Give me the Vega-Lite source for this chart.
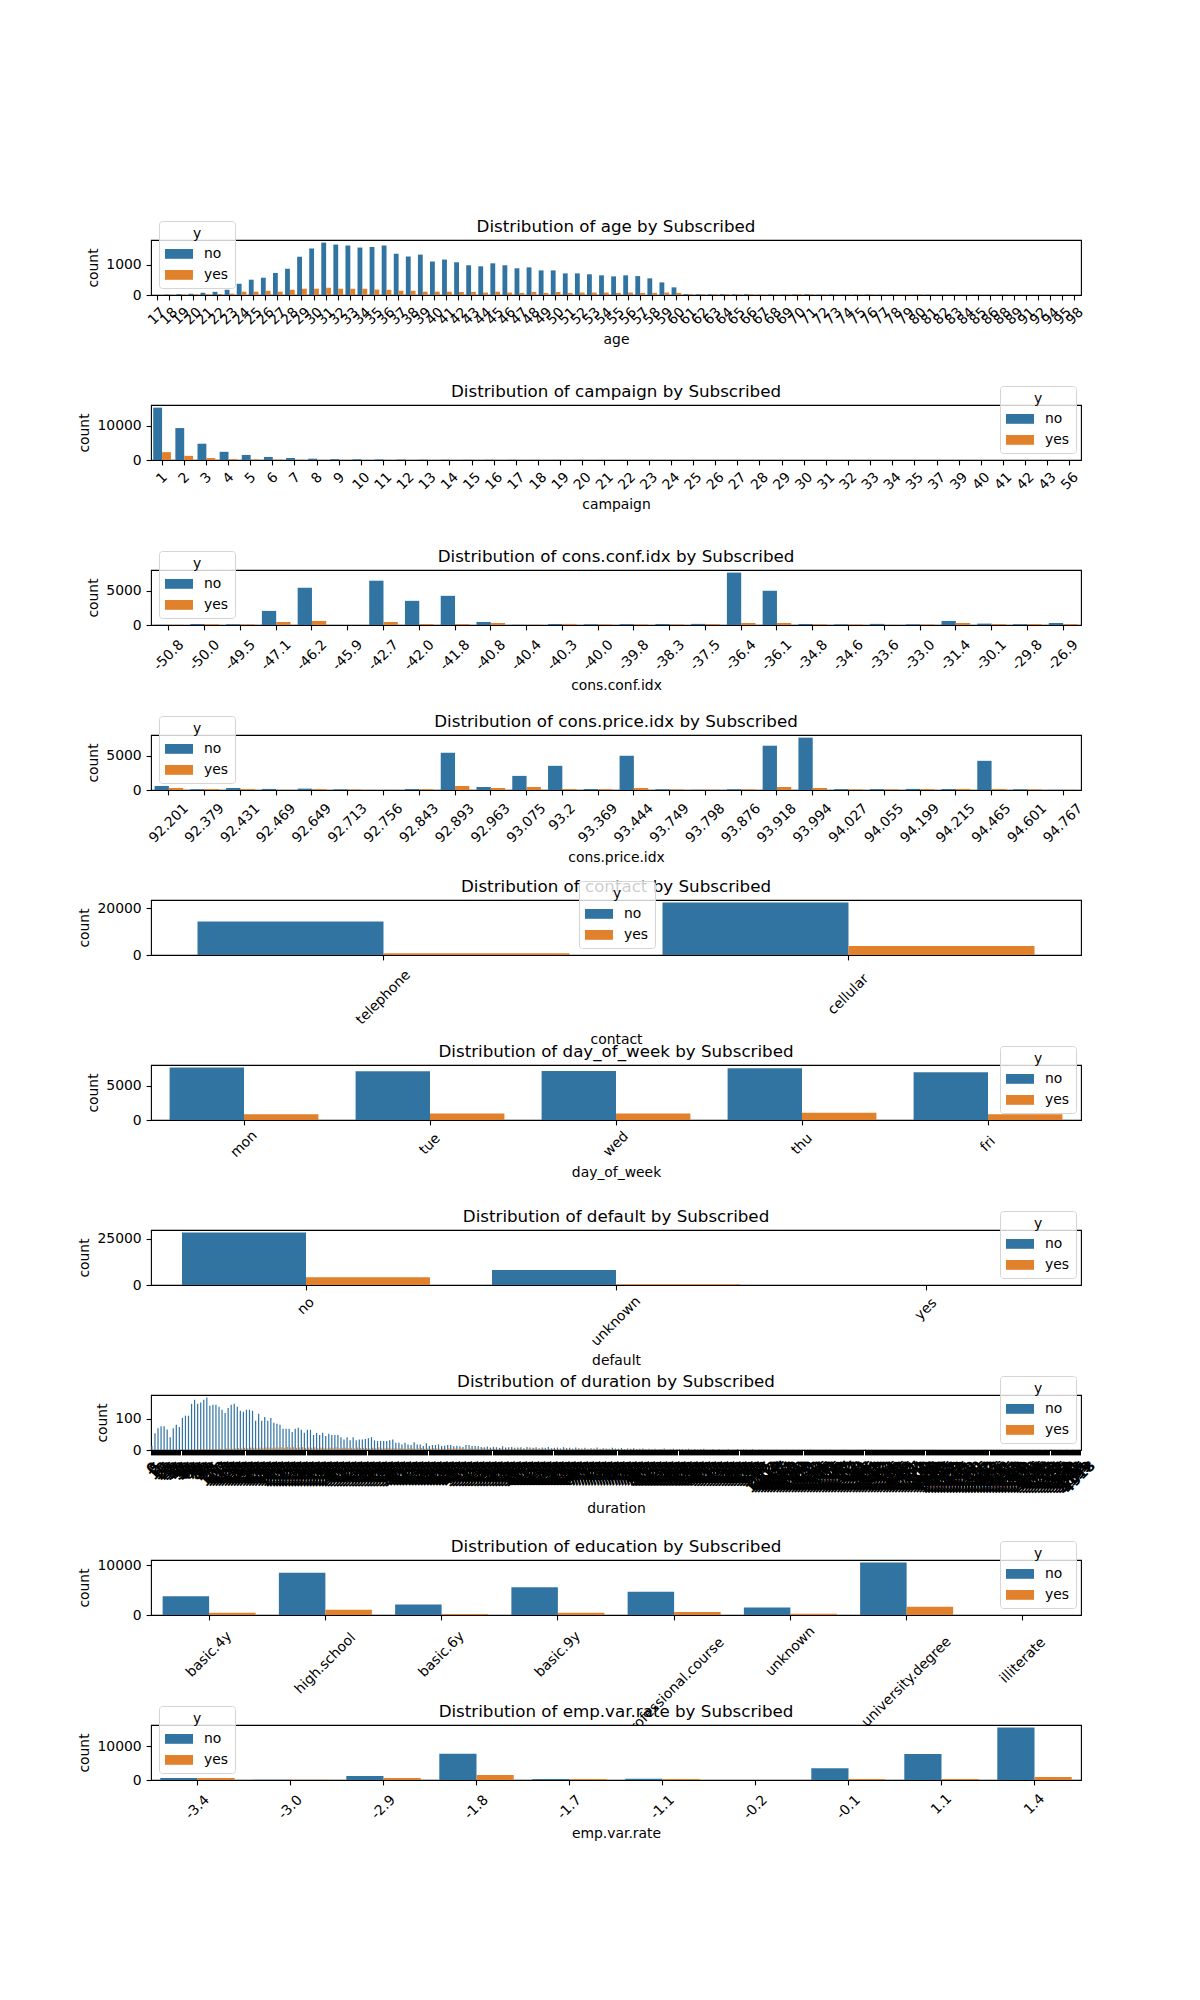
{
"$schema": "https://vega.github.io/schema/vega-lite/v6.json",
"padding": {"left": 76, "top": 217, "right": 5, "bottom": 5},
"background": "white",
"datasets": {
"age": [{"v":17,"no":3,"yes":2},{"v":18,"no":16,"yes":12},{"v":19,"no":30,"yes":20},{"v":20,"no":40,"yes":23},{"v":21,"no":75,"yes":29},{"v":22,"no":105,"yes":36},{"v":23,"no":175,"yes":45},{"v":24,"no":375,"yes":110},{"v":25,"no":510,"yes":110},{"v":26,"no":575,"yes":140},{"v":27,"no":735,"yes":110},{"v":28,"no":875,"yes":175},{"v":29,"no":1275,"yes":210},{"v":30,"no":1545,"yes":210},{"v":31,"no":1745,"yes":240},{"v":32,"no":1680,"yes":210},{"v":33,"no":1645,"yes":210},{"v":34,"no":1580,"yes":210},{"v":35,"no":1600,"yes":180},{"v":36,"no":1645,"yes":175},{"v":37,"no":1375,"yes":145},{"v":38,"no":1280,"yes":140},{"v":39,"no":1345,"yes":110},{"v":40,"no":1115,"yes":110},{"v":41,"no":1180,"yes":110},{"v":42,"no":1090,"yes":100},{"v":43,"no":990,"yes":100},{"v":44,"no":955,"yes":80},{"v":45,"no":1055,"yes":110},{"v":46,"no":990,"yes":80},{"v":47,"no":890,"yes":70},{"v":48,"no":920,"yes":100},{"v":49,"no":820,"yes":70},{"v":50,"no":820,"yes":100},{"v":51,"no":720,"yes":70},{"v":52,"no":720,"yes":80},{"v":53,"no":690,"yes":80},{"v":54,"no":655,"yes":80},{"v":55,"no":620,"yes":70},{"v":56,"no":655,"yes":80},{"v":57,"no":630,"yes":70},{"v":58,"no":555,"yes":70},{"v":59,"no":420,"yes":80},{"v":60,"no":255,"yes":70},{"v":61,"no":30,"yes":35},{"v":62,"no":25,"yes":30},{"v":63,"no":25,"yes":30},{"v":64,"no":28,"yes":29},{"v":65,"no":23,"yes":21},{"v":66,"no":30,"yes":27},{"v":67,"no":11,"yes":15},{"v":68,"no":19,"yes":14},{"v":69,"no":14,"yes":20},{"v":70,"no":20,"yes":27},{"v":71,"no":28,"yes":25},{"v":72,"no":13,"yes":21},{"v":73,"no":20,"yes":14},{"v":74,"no":14,"yes":18},{"v":75,"no":12,"yes":12},{"v":76,"no":18,"yes":16},{"v":77,"no":9,"yes":11},{"v":78,"no":13,"yes":14},{"v":79,"no":3,"yes":11},{"v":80,"no":10,"yes":21},{"v":81,"no":10,"yes":10},{"v":82,"no":6,"yes":11},{"v":83,"no":9,"yes":8},{"v":84,"no":5,"yes":2},{"v":85,"no":8,"yes":7},{"v":86,"no":4,"yes":4},{"v":88,"no":9,"yes":13},{"v":89,"no":2,"yes":0},{"v":91,"no":2,"yes":0},{"v":92,"no":1,"yes":3},{"v":94,"no":1,"yes":0},{"v":95,"no":1,"yes":0},{"v":98,"no":0,"yes":2}],
"campaign": [{"v":1,"no":15342,"yes":2300},{"v":2,"no":9359,"yes":1211},{"v":3,"no":4767,"yes":574},{"v":4,"no":2402,"yes":249},{"v":5,"no":1479,"yes":120},{"v":6,"no":904,"yes":75},{"v":7,"no":591,"yes":38},{"v":8,"no":383,"yes":17},{"v":9,"no":266,"yes":17},{"v":10,"no":213,"yes":12},{"v":11,"no":165,"yes":12},{"v":12,"no":122,"yes":3},{"v":13,"no":88,"yes":4},{"v":14,"no":68,"yes":1},{"v":15,"no":49,"yes":2},{"v":16,"no":51,"yes":0},{"v":17,"no":54,"yes":4},{"v":18,"no":33,"yes":0},{"v":19,"no":26,"yes":0},{"v":20,"no":30,"yes":0},{"v":21,"no":24,"yes":0},{"v":22,"no":17,"yes":0},{"v":23,"no":15,"yes":1},{"v":24,"no":15,"yes":0},{"v":25,"no":8,"yes":0},{"v":26,"no":8,"yes":0},{"v":27,"no":11,"yes":0},{"v":28,"no":8,"yes":0},{"v":29,"no":10,"yes":0},{"v":30,"no":7,"yes":0},{"v":31,"no":7,"yes":0},{"v":32,"no":4,"yes":0},{"v":33,"no":4,"yes":0},{"v":34,"no":3,"yes":0},{"v":35,"no":5,"yes":0},{"v":37,"no":1,"yes":0},{"v":39,"no":1,"yes":0},{"v":40,"no":2,"yes":0},{"v":41,"no":1,"yes":0},{"v":42,"no":2,"yes":0},{"v":43,"no":2,"yes":0},{"v":56,"no":1,"yes":0}],
"conf": [{"v":"-50.8","no":25,"yes":30},{"v":"-50.0","no":150,"yes":130},{"v":"-49.5","no":110,"yes":100},{"v":"-47.1","no":2060,"yes":440},{"v":"-46.2","no":5440,"yes":590},{"v":"-45.9","no":0,"yes":10},{"v":"-42.7","no":6470,"yes":440},{"v":"-42.0","no":3530,"yes":150},{"v":"-41.8","no":4260,"yes":150},{"v":"-40.8","no":440,"yes":290},{"v":"-40.4","no":30,"yes":35},{"v":"-40.3","no":150,"yes":160},{"v":"-40.0","no":110,"yes":100},{"v":"-39.8","no":130,"yes":100},{"v":"-38.3","no":130,"yes":100},{"v":"-37.5","no":160,"yes":140},{"v":"-36.4","no":7650,"yes":290},{"v":"-36.1","no":5000,"yes":290},{"v":"-34.8","no":150,"yes":120},{"v":"-34.6","no":100,"yes":80},{"v":"-33.6","no":160,"yes":10},{"v":"-33.0","no":100,"yes":80},{"v":"-31.4","no":590,"yes":290},{"v":"-30.1","no":200,"yes":150},{"v":"-29.8","no":120,"yes":150},{"v":"-26.9","no":290,"yes":150}],
"price": [{"v":"92.201","no":590,"yes":290},{"v":"92.379","no":120,"yes":150},{"v":"92.431","no":290,"yes":150},{"v":"92.469","no":160,"yes":10},{"v":"92.649","no":200,"yes":150},{"v":"92.713","no":100,"yes":80},{"v":"92.756","no":0,"yes":10},{"v":"92.843","no":150,"yes":130},{"v":"92.893","no":5440,"yes":590},{"v":"92.963","no":440,"yes":290},{"v":"93.075","no":2060,"yes":440},{"v":"93.2","no":3530,"yes":150},{"v":"93.369","no":150,"yes":120},{"v":"93.444","no":5000,"yes":290},{"v":"93.749","no":100,"yes":80},{"v":"93.798","no":30,"yes":35},{"v":"93.876","no":110,"yes":100},{"v":"93.918","no":6470,"yes":440},{"v":"93.994","no":7650,"yes":290},{"v":"94.027","no":130,"yes":100},{"v":"94.055","no":130,"yes":100},{"v":"94.199","no":160,"yes":140},{"v":"94.215","no":150,"yes":160},{"v":"94.465","no":4260,"yes":150},{"v":"94.601","no":110,"yes":100},{"v":"94.767","no":25,"yes":30}],
"contact": [{"v":"telephone","no":14257,"yes":787},{"v":"cellular","no":22291,"yes":3853}],
"dow": [{"v":"mon","no":7667,"yes":847},{"v":"tue","no":7137,"yes":953},{"v":"wed","no":7185,"yes":949},{"v":"thu","no":7578,"yes":1045},{"v":"fri","no":6981,"yes":846}],
"default": [{"v":"no","no":28391,"yes":4197},{"v":"unknown","no":8154,"yes":443},{"v":"yes","no":3,"yes":0}],
"education": [{"v":"basic.4y","no":3748,"yes":428},{"v":"high.school","no":8484,"yes":1031},{"v":"basic.6y","no":2104,"yes":188},{"v":"basic.9y","no":5572,"yes":473},{"v":"professional.course","no":4648,"yes":595},{"v":"unknown","no":1480,"yes":251},{"v":"university.degree","no":10498,"yes":1670},{"v":"illiterate","no":14,"yes":4}],
"emp": [{"v":"-3.4","no":610,"yes":580},{"v":"-3.0","no":84,"yes":88},{"v":"-2.9","no":1150,"yes":600},{"v":"-1.8","no":7723,"yes":1480},{"v":"-1.7","no":330,"yes":330},{"v":"-1.1","no":334,"yes":301},{"v":"-0.2","no":9,"yes":1},{"v":"-0.1","no":3500,"yes":300},{"v":"1.1","no":7650,"yes":290},{"v":"1.4","no":15446,"yes":890}],
"duration": [{"v":0,"no":13,"yes":0},{"v":5,"no":54,"yes":0},{"v":10,"no":70,"yes":0},{"v":15,"no":76,"yes":0},{"v":20,"no":76,"yes":0},{"v":25,"no":66,"yes":0},{"v":30,"no":41,"yes":0},{"v":35,"no":70,"yes":0},{"v":40,"no":81,"yes":0},{"v":45,"no":74,"yes":0},{"v":50,"no":103,"yes":1},{"v":55,"no":110,"yes":1},{"v":60,"no":110,"yes":1},{"v":65,"no":148,"yes":2},{"v":70,"no":161,"yes":1},{"v":75,"no":148,"yes":2},{"v":80,"no":152,"yes":3},{"v":85,"no":161,"yes":2},{"v":90,"no":168,"yes":3},{"v":95,"no":142,"yes":2},{"v":100,"no":145,"yes":3},{"v":105,"no":145,"yes":3},{"v":110,"no":139,"yes":4},{"v":115,"no":129,"yes":3},{"v":120,"no":119,"yes":5},{"v":125,"no":135,"yes":4},{"v":130,"no":145,"yes":4},{"v":135,"no":148,"yes":5},{"v":140,"no":139,"yes":6},{"v":145,"no":126,"yes":5},{"v":150,"no":123,"yes":7},{"v":155,"no":129,"yes":6},{"v":160,"no":129,"yes":8},{"v":165,"no":126,"yes":7},{"v":170,"no":94,"yes":6},{"v":175,"no":116,"yes":8},{"v":180,"no":94,"yes":7},{"v":185,"no":106,"yes":9},{"v":190,"no":94,"yes":8},{"v":195,"no":103,"yes":7},{"v":200,"no":87,"yes":8},{"v":205,"no":84,"yes":8},{"v":210,"no":81,"yes":9},{"v":215,"no":68,"yes":7},{"v":220,"no":68,"yes":10},{"v":225,"no":68,"yes":8},{"v":230,"no":58,"yes":9},{"v":235,"no":68,"yes":7},{"v":240,"no":71,"yes":8},{"v":245,"no":65,"yes":9},{"v":250,"no":55,"yes":6},{"v":255,"no":65,"yes":8},{"v":260,"no":65,"yes":7},{"v":265,"no":48,"yes":9},{"v":270,"no":55,"yes":6},{"v":275,"no":48,"yes":8},{"v":280,"no":55,"yes":7},{"v":285,"no":45,"yes":6},{"v":290,"no":52,"yes":8},{"v":295,"no":48,"yes":7},{"v":300,"no":48,"yes":9},{"v":305,"no":48,"yes":6},{"v":310,"no":41,"yes":7},{"v":315,"no":34,"yes":8},{"v":320,"no":41,"yes":6},{"v":325,"no":31,"yes":7},{"v":330,"no":41,"yes":5},{"v":335,"no":31,"yes":8},{"v":340,"no":34,"yes":6},{"v":345,"no":34,"yes":7},{"v":350,"no":35,"yes":6},{"v":355,"no":38,"yes":5},{"v":360,"no":41,"yes":7},{"v":365,"no":31,"yes":6},{"v":370,"no":29,"yes":8},{"v":375,"no":29,"yes":5},{"v":380,"no":29,"yes":6},{"v":385,"no":29,"yes":7},{"v":390,"no":31,"yes":5},{"v":395,"no":34,"yes":6},{"v":400,"no":23,"yes":5},{"v":405,"no":23,"yes":6},{"v":410,"no":18,"yes":5},{"v":415,"no":23,"yes":4},{"v":420,"no":18,"yes":6},{"v":425,"no":16,"yes":5},{"v":430,"no":25,"yes":4},{"v":435,"no":18,"yes":5},{"v":440,"no":18,"yes":6},{"v":445,"no":13,"yes":4},{"v":450,"no":22,"yes":5},{"v":455,"no":13,"yes":4},{"v":460,"no":16,"yes":6},{"v":465,"no":16,"yes":5},{"v":470,"no":18,"yes":4},{"v":475,"no":13,"yes":5},{"v":480,"no":14,"yes":4},{"v":485,"no":16,"yes":6},{"v":490,"no":16,"yes":4},{"v":495,"no":12,"yes":5},{"v":500,"no":14,"yes":4},{"v":505,"no":12,"yes":5},{"v":510,"no":10,"yes":4},{"v":515,"no":16,"yes":3},{"v":520,"no":16,"yes":5},{"v":525,"no":13,"yes":4},{"v":530,"no":13,"yes":4},{"v":535,"no":12,"yes":3},{"v":540,"no":10,"yes":5},{"v":545,"no":9,"yes":4},{"v":550,"no":11,"yes":3},{"v":555,"no":8,"yes":4},{"v":560,"no":10,"yes":4},{"v":565,"no":9,"yes":3},{"v":570,"no":7,"yes":5},{"v":575,"no":12,"yes":3},{"v":580,"no":8,"yes":4},{"v":585,"no":9,"yes":3},{"v":590,"no":10,"yes":4},{"v":595,"no":7,"yes":3},{"v":600,"no":8,"yes":4},{"v":605,"no":9,"yes":3},{"v":610,"no":6,"yes":3},{"v":615,"no":10,"yes":4},{"v":620,"no":8,"yes":3},{"v":625,"no":7,"yes":5},{"v":630,"no":9,"yes":3},{"v":635,"no":6,"yes":3},{"v":640,"no":8,"yes":4},{"v":645,"no":7,"yes":3},{"v":650,"no":10,"yes":3},{"v":655,"no":6,"yes":4},{"v":660,"no":7,"yes":3},{"v":665,"no":8,"yes":3},{"v":670,"no":5,"yes":2},{"v":675,"no":9,"yes":4},{"v":680,"no":6,"yes":3},{"v":685,"no":7,"yes":3},{"v":690,"no":5,"yes":2},{"v":695,"no":8,"yes":3},{"v":700,"no":6,"yes":3},{"v":705,"no":5,"yes":2},{"v":710,"no":7,"yes":3},{"v":715,"no":4,"yes":3},{"v":720,"no":6,"yes":2},{"v":725,"no":5,"yes":3},{"v":730,"no":8,"yes":2},{"v":735,"no":4,"yes":3},{"v":740,"no":6,"yes":2},{"v":745,"no":5,"yes":3},{"v":750,"no":4,"yes":2},{"v":755,"no":7,"yes":3},{"v":760,"no":5,"yes":2},{"v":765,"no":4,"yes":2},{"v":770,"no":6,"yes":3},{"v":775,"no":3,"yes":2},{"v":780,"no":5,"yes":2},{"v":785,"no":4,"yes":3},{"v":790,"no":6,"yes":2},{"v":795,"no":3,"yes":2},{"v":800,"no":4,"yes":2},{"v":805,"no":5,"yes":3},{"v":810,"no":3,"yes":2},{"v":815,"no":4,"yes":2},{"v":820,"no":3,"yes":2},{"v":825,"no":4,"yes":2},{"v":830,"no":2,"yes":3},{"v":835,"no":3,"yes":2},{"v":840,"no":5,"yes":2},{"v":845,"no":2,"yes":2},{"v":850,"no":3,"yes":2},{"v":855,"no":4,"yes":2},{"v":860,"no":2,"yes":3},{"v":865,"no":3,"yes":2},{"v":870,"no":3,"yes":2},{"v":875,"no":2,"yes":2},{"v":880,"no":4,"yes":2},{"v":885,"no":2,"yes":2},{"v":890,"no":3,"yes":2},{"v":895,"no":2,"yes":2},{"v":900,"no":3,"yes":2},{"v":905,"no":4,"yes":2},{"v":910,"no":2,"yes":2},{"v":915,"no":2,"yes":2},{"v":920,"no":3,"yes":2},{"v":925,"no":1,"yes":2},{"v":930,"no":3,"yes":1},{"v":935,"no":2,"yes":2},{"v":940,"no":2,"yes":2},{"v":945,"no":3,"yes":2},{"v":950,"no":1,"yes":2},{"v":955,"no":2,"yes":1},{"v":960,"no":3,"yes":2},{"v":965,"no":1,"yes":2},{"v":970,"no":2,"yes":2},{"v":975,"no":2,"yes":1},{"v":980,"no":1,"yes":2},{"v":985,"no":3,"yes":2},{"v":990,"no":1,"yes":1},{"v":995,"no":2,"yes":2},{"v":1002,"no":2,"yes":2},{"v":1010,"no":1,"yes":2},{"v":1018,"no":2,"yes":1},{"v":1027,"no":1,"yes":2},{"v":1035,"no":1,"yes":2},{"v":1044,"no":2,"yes":1},{"v":1053,"no":1,"yes":2},{"v":1062,"no":1,"yes":1},{"v":1071,"no":2,"yes":2},{"v":1080,"no":1,"yes":1},{"v":1090,"no":1,"yes":2},{"v":1100,"no":1,"yes":1},{"v":1110,"no":2,"yes":1},{"v":1121,"no":1,"yes":2},{"v":1132,"no":1,"yes":1},{"v":1143,"no":1,"yes":1},{"v":1154,"no":2,"yes":2},{"v":1166,"no":1,"yes":1},{"v":1178,"no":1,"yes":1},{"v":1190,"no":1,"yes":1},{"v":1203,"no":1,"yes":1},{"v":1216,"no":2,"yes":1},{"v":1229,"no":1,"yes":2},{"v":1243,"no":1,"yes":1},{"v":1257,"no":1,"yes":1},{"v":1272,"no":1,"yes":1},{"v":1287,"no":1,"yes":1},{"v":1302,"no":2,"yes":2},{"v":1318,"no":1,"yes":1},{"v":1334,"no":1,"yes":1},{"v":1351,"no":1,"yes":1},{"v":1368,"no":1,"yes":1},{"v":1386,"no":1,"yes":1},{"v":1404,"no":1,"yes":1},{"v":1423,"no":2,"yes":1},{"v":1442,"no":1,"yes":1},{"v":1462,"no":1,"yes":1},{"v":1482,"no":1,"yes":1},{"v":1503,"no":1,"yes":1},{"v":1524,"no":1,"yes":1},{"v":1546,"no":1,"yes":1},{"v":1569,"no":1,"yes":1},{"v":1592,"no":1,"yes":1},{"v":1616,"no":1,"yes":1},{"v":1640,"no":1,"yes":1},{"v":1665,"no":1,"yes":1},{"v":1691,"no":1,"yes":1},{"v":1717,"no":1,"yes":1},{"v":1744,"no":1,"yes":1},{"v":1772,"no":1,"yes":1},{"v":1800,"no":1,"yes":1},{"v":1829,"no":1,"yes":1},{"v":1858,"no":1,"yes":1},{"v":1888,"no":1,"yes":1},{"v":1919,"no":1,"yes":1},{"v":1950,"no":1,"yes":1},{"v":1980,"no":1,"yes":1},{"v":2015,"no":1,"yes":1},{"v":2035,"no":1,"yes":1},{"v":2062,"no":1,"yes":1},{"v":2089,"no":1,"yes":1},{"v":2122,"no":1,"yes":1},{"v":2139,"no":1,"yes":0},{"v":2165,"no":1,"yes":1},{"v":2191,"no":1,"yes":1},{"v":2219,"no":1,"yes":0},{"v":2231,"no":1,"yes":1},{"v":2260,"no":1,"yes":1},{"v":2301,"no":1,"yes":1},{"v":2316,"no":1,"yes":0},{"v":2372,"no":1,"yes":1},{"v":2420,"no":1,"yes":0},{"v":2453,"no":1,"yes":1},{"v":2462,"no":1,"yes":1},{"v":2486,"no":1,"yes":0},{"v":2516,"no":1,"yes":1},{"v":2580,"no":1,"yes":0},{"v":2621,"no":1,"yes":1},{"v":2635,"no":1,"yes":1},{"v":2653,"no":1,"yes":0},{"v":2680,"no":1,"yes":1},{"v":2692,"no":1,"yes":0},{"v":2719,"no":1,"yes":1},{"v":2769,"no":1,"yes":0},{"v":2801,"no":1,"yes":1},{"v":2870,"no":1,"yes":1},{"v":2926,"no":1,"yes":0},{"v":2980,"no":1,"yes":1},{"v":3076,"no":1,"yes":0},{"v":3078,"no":1,"yes":1},{"v":3094,"no":0,"yes":1},{"v":3183,"no":1,"yes":1},{"v":3253,"no":0,"yes":0},{"v":3284,"no":1,"yes":1},{"v":3322,"no":0,"yes":1},{"v":3366,"no":1,"yes":0},{"v":3422,"no":1,"yes":1},{"v":3509,"no":0,"yes":1},{"v":3580,"no":1,"yes":0},{"v":3631,"no":0,"yes":1},{"v":3643,"no":1,"yes":1},{"v":3785,"no":0,"yes":0},{"v":3881,"no":1,"yes":1},{"v":4199,"no":0,"yes":1},{"v":4918,"no":1,"yes":1}]
},
"spacing": 110,
"bounds": "flush",
"resolve": {"scale": {"color": "independent", "x": "independent", "y": "independent", "xOffset": "independent"}, "legend": {"color": "independent"}},
"vconcat": [
{"title": "Distribution of age by Subscribed", "width": 930, "height": 55, "data": {"name": "age"},
 "transform": [{"fold": ["no", "yes"], "as": ["y", "count"]}], "mark": {"type": "bar"},
 "encoding": {
  "x": {"field": "v", "type": "nominal", "sort": null, "title": "age", "scale": {"paddingInner": 0.2, "paddingOuter": 0.1}, "axis": {"labelOverlap": false, "encoding": {"labels": {"dx": {"value": {"expr": "-0.25*(8.6*length(datum.label)+14)"}}, "dy": {"value": {"expr": "0.25*(8.6*length(datum.label)+14)"}}}}}},
  "xOffset": {"field": "y", "type": "nominal", "sort": ["no", "yes"], "scale": {"paddingInner": 0, "paddingOuter": 0}},
  "y": {"field": "count", "type": "quantitative", "title": "count", "scale": {"domain": [0, 1832], "nice": false}, "axis": {"values": [0, 1000], "format": "d"}},
  "color": {"field": "y", "type": "nominal", "sort": ["no", "yes"], "scale": {"domain": ["no", "yes"], "range": ["#3274a1", "#e1812c"]}, "legend": {"orient": "none", "legendX": 8, "legendY": -19}}
 }},
{"title": "Distribution of campaign by Subscribed", "width": 930, "height": 55, "data": {"name": "campaign"},
 "transform": [{"fold": ["no", "yes"], "as": ["y", "count"]}], "mark": {"type": "bar"},
 "encoding": {
  "x": {"field": "v", "type": "nominal", "sort": null, "title": "campaign", "scale": {"paddingInner": 0.2, "paddingOuter": 0.1}, "axis": {"labelOverlap": false, "encoding": {"labels": {"dx": {"value": {"expr": "-0.25*(8.6*length(datum.label)+14)"}}, "dy": {"value": {"expr": "0.25*(8.6*length(datum.label)+14)"}}}}}},
  "xOffset": {"field": "y", "type": "nominal", "sort": ["no", "yes"], "scale": {"paddingInner": 0, "paddingOuter": 0}},
  "y": {"field": "count", "type": "quantitative", "title": "count", "scale": {"domain": [0, 16109], "nice": false}, "axis": {"values": [0, 10000], "format": "d"}},
  "color": {"field": "y", "type": "nominal", "sort": ["no", "yes"], "scale": {"domain": ["no", "yes"], "range": ["#3274a1", "#e1812c"]}, "legend": {"orient": "none", "legendX": 849, "legendY": -19}}
 }},
{"title": "Distribution of cons.conf.idx by Subscribed", "width": 930, "height": 55, "data": {"name": "conf"},
 "transform": [{"fold": ["no", "yes"], "as": ["y", "count"]}], "mark": {"type": "bar"},
 "encoding": {
  "x": {"field": "v", "type": "nominal", "sort": null, "title": "cons.conf.idx", "scale": {"paddingInner": 0.2, "paddingOuter": 0.1}, "axis": {"labelOverlap": false, "encoding": {"labels": {"dx": {"value": {"expr": "-0.25*(8.6*length(datum.label)+14)"}}, "dy": {"value": {"expr": "0.25*(8.6*length(datum.label)+14)"}}}}}},
  "xOffset": {"field": "y", "type": "nominal", "sort": ["no", "yes"], "scale": {"paddingInner": 0, "paddingOuter": 0}},
  "y": {"field": "count", "type": "quantitative", "title": "count", "scale": {"domain": [0, 8032], "nice": false}, "axis": {"values": [0, 5000], "format": "d"}},
  "color": {"field": "y", "type": "nominal", "sort": ["no", "yes"], "scale": {"domain": ["no", "yes"], "range": ["#3274a1", "#e1812c"]}, "legend": {"orient": "none", "legendX": 8, "legendY": -19}}
 }},
{"title": "Distribution of cons.price.idx by Subscribed", "width": 930, "height": 55, "data": {"name": "price"},
 "transform": [{"fold": ["no", "yes"], "as": ["y", "count"]}], "mark": {"type": "bar"},
 "encoding": {
  "x": {"field": "v", "type": "nominal", "sort": null, "title": "cons.price.idx", "scale": {"paddingInner": 0.2, "paddingOuter": 0.1}, "axis": {"labelOverlap": false, "encoding": {"labels": {"dx": {"value": {"expr": "-0.25*(8.6*length(datum.label)+14)"}}, "dy": {"value": {"expr": "0.25*(8.6*length(datum.label)+14)"}}}}}},
  "xOffset": {"field": "y", "type": "nominal", "sort": ["no", "yes"], "scale": {"paddingInner": 0, "paddingOuter": 0}},
  "y": {"field": "count", "type": "quantitative", "title": "count", "scale": {"domain": [0, 8032], "nice": false}, "axis": {"values": [0, 5000], "format": "d"}},
  "color": {"field": "y", "type": "nominal", "sort": ["no", "yes"], "scale": {"domain": ["no", "yes"], "range": ["#3274a1", "#e1812c"]}, "legend": {"orient": "none", "legendX": 8, "legendY": -19}}
 }},
{"title": "Distribution of contact by Subscribed", "width": 930, "height": 55, "data": {"name": "contact"},
 "transform": [{"fold": ["no", "yes"], "as": ["y", "count"]}], "mark": {"type": "bar"},
 "encoding": {
  "x": {"field": "v", "type": "nominal", "sort": null, "title": "contact", "scale": {"paddingInner": 0.2, "paddingOuter": 0.1}, "axis": {"labelOverlap": false, "encoding": {"labels": {"dx": {"value": {"expr": "-0.25*(8.6*length(datum.label)+14)"}}, "dy": {"value": {"expr": "0.25*(8.6*length(datum.label)+14)"}}}}}},
  "xOffset": {"field": "y", "type": "nominal", "sort": ["no", "yes"], "scale": {"paddingInner": 0, "paddingOuter": 0}},
  "y": {"field": "count", "type": "quantitative", "title": "count", "scale": {"domain": [0, 23406], "nice": false}, "axis": {"values": [0, 20000], "format": "d"}},
  "color": {"field": "y", "type": "nominal", "sort": ["no", "yes"], "scale": {"domain": ["no", "yes"], "range": ["#3274a1", "#e1812c"]}, "legend": {"orient": "none", "legendX": 428, "legendY": -19}}
 }},
{"title": "Distribution of day_of_week by Subscribed", "width": 930, "height": 55, "data": {"name": "dow"},
 "transform": [{"fold": ["no", "yes"], "as": ["y", "count"]}], "mark": {"type": "bar"},
 "encoding": {
  "x": {"field": "v", "type": "nominal", "sort": null, "title": "day_of_week", "scale": {"paddingInner": 0.2, "paddingOuter": 0.1}, "axis": {"labelOverlap": false, "encoding": {"labels": {"dx": {"value": {"expr": "-0.25*(8.6*length(datum.label)+14)"}}, "dy": {"value": {"expr": "0.25*(8.6*length(datum.label)+14)"}}}}}},
  "xOffset": {"field": "y", "type": "nominal", "sort": ["no", "yes"], "scale": {"paddingInner": 0, "paddingOuter": 0}},
  "y": {"field": "count", "type": "quantitative", "title": "count", "scale": {"domain": [0, 8050], "nice": false}, "axis": {"values": [0, 5000], "format": "d"}},
  "color": {"field": "y", "type": "nominal", "sort": ["no", "yes"], "scale": {"domain": ["no", "yes"], "range": ["#3274a1", "#e1812c"]}, "legend": {"orient": "none", "legendX": 849, "legendY": -19}}
 }},
{"title": "Distribution of default by Subscribed", "width": 930, "height": 55, "data": {"name": "default"},
 "transform": [{"fold": ["no", "yes"], "as": ["y", "count"]}], "mark": {"type": "bar"},
 "encoding": {
  "x": {"field": "v", "type": "nominal", "sort": null, "title": "default", "scale": {"paddingInner": 0.2, "paddingOuter": 0.1}, "axis": {"labelOverlap": false, "encoding": {"labels": {"dx": {"value": {"expr": "-0.25*(8.6*length(datum.label)+14)"}}, "dy": {"value": {"expr": "0.25*(8.6*length(datum.label)+14)"}}}}}},
  "xOffset": {"field": "y", "type": "nominal", "sort": ["no", "yes"], "scale": {"paddingInner": 0, "paddingOuter": 0}},
  "y": {"field": "count", "type": "quantitative", "title": "count", "scale": {"domain": [0, 29811], "nice": false}, "axis": {"values": [0, 25000], "format": "d"}},
  "color": {"field": "y", "type": "nominal", "sort": ["no", "yes"], "scale": {"domain": ["no", "yes"], "range": ["#3274a1", "#e1812c"]}, "legend": {"orient": "none", "legendX": 849, "legendY": -19}}
 }},
{"title": "Distribution of duration by Subscribed", "width": 930, "height": 55, "data": {"name": "duration"},
 "transform": [{"fold": ["no", "yes"], "as": ["y", "count"]}], "mark": {"type": "bar"},
 "encoding": {
  "x": {"field": "v", "type": "nominal", "sort": null, "title": "duration", "scale": {"paddingInner": 0.2, "paddingOuter": 0.1}, "axis": {"labelOverlap": false, "tickWidth": 3, "labelFontWeight": "bold", "encoding": {"labels": {"dx": {"value": {"expr": "-0.25*(8.6*length(datum.label)+14)"}}, "dy": {"value": {"expr": "0.25*(8.6*length(datum.label)+14)"}}}}}},
  "xOffset": {"field": "y", "type": "nominal", "sort": ["no", "yes"], "scale": {"paddingInner": 0, "paddingOuter": 0}},
  "y": {"field": "count", "type": "quantitative", "title": "count", "scale": {"domain": [0, 176.4], "nice": false}, "axis": {"values": [0, 100], "format": "d"}},
  "color": {"field": "y", "type": "nominal", "sort": ["no", "yes"], "scale": {"domain": ["no", "yes"], "range": ["#3274a1", "#e1812c"]}, "legend": {"orient": "none", "legendX": 849, "legendY": -19}}
 }},
{"title": "Distribution of education by Subscribed", "width": 930, "height": 55, "data": {"name": "education"},
 "transform": [{"fold": ["no", "yes"], "as": ["y", "count"]}], "mark": {"type": "bar"},
 "encoding": {
  "x": {"field": "v", "type": "nominal", "sort": null, "title": "education", "scale": {"paddingInner": 0.2, "paddingOuter": 0.1}, "axis": {"labelOverlap": false, "encoding": {"labels": {"dx": {"value": {"expr": "-0.25*(8.6*length(datum.label)+14)"}}, "dy": {"value": {"expr": "0.25*(8.6*length(datum.label)+14)"}}}}}},
  "xOffset": {"field": "y", "type": "nominal", "sort": ["no", "yes"], "scale": {"paddingInner": 0, "paddingOuter": 0}},
  "y": {"field": "count", "type": "quantitative", "title": "count", "scale": {"domain": [0, 11023], "nice": false}, "axis": {"values": [0, 10000], "format": "d"}},
  "color": {"field": "y", "type": "nominal", "sort": ["no", "yes"], "scale": {"domain": ["no", "yes"], "range": ["#3274a1", "#e1812c"]}, "legend": {"orient": "none", "legendX": 849, "legendY": -19}}
 }},
{"title": "Distribution of emp.var.rate by Subscribed", "width": 930, "height": 55, "data": {"name": "emp"},
 "transform": [{"fold": ["no", "yes"], "as": ["y", "count"]}], "mark": {"type": "bar"},
 "encoding": {
  "x": {"field": "v", "type": "nominal", "sort": null, "title": "emp.var.rate", "scale": {"paddingInner": 0.2, "paddingOuter": 0.1}, "axis": {"labelOverlap": false, "encoding": {"labels": {"dx": {"value": {"expr": "-0.25*(8.6*length(datum.label)+14)"}}, "dy": {"value": {"expr": "0.25*(8.6*length(datum.label)+14)"}}}}}},
  "xOffset": {"field": "y", "type": "nominal", "sort": ["no", "yes"], "scale": {"paddingInner": 0, "paddingOuter": 0}},
  "y": {"field": "count", "type": "quantitative", "title": "count", "scale": {"domain": [0, 16218], "nice": false}, "axis": {"values": [0, 10000], "format": "d"}},
  "color": {"field": "y", "type": "nominal", "sort": ["no", "yes"], "scale": {"domain": ["no", "yes"], "range": ["#3274a1", "#e1812c"]}, "legend": {"orient": "none", "legendX": 8, "legendY": -19}}
 }}
],
"config": {
 "font": "DejaVu Sans",
 "view": {"stroke": "black", "strokeWidth": 1.1, "fill": "white"},
 "axis": {"grid": false, "domain": false, "tickColor": "black", "tickSize": 4.9, "tickWidth": 1.1, "labelFontSize": 13.9, "labelColor": "black", "labelFont": "DejaVu Sans", "titleFont": "DejaVu Sans", "titleFontSize": 13.9, "titleFontWeight": "normal", "titleColor": "black", "labelPadding": 4.9, "titlePadding": 5.6},
 "axisX": {"labelAngle": -45, "labelAlign": "center", "labelBaseline": "middle"},
 "title": {"font": "DejaVu Sans", "fontSize": 16.7, "fontWeight": "normal", "color": "black", "offset": -14.7, "anchor": "middle", "zindex": 0},
 "legend": {"zindex": 2, "titleFontSize": 13.9, "titleFontWeight": "normal", "titleColor": "black", "labelFontSize": 13.9, "labelColor": "black", "labelFont": "DejaVu Sans", "titleFont": "DejaVu Sans", "titleAnchor": "middle", "titleAlign": "center", "symbolType": "M-1,-0.7H3V0.7H-1Z", "symbolSize": 196, "symbolStrokeWidth": 0, "symbolOpacity": 1, "labelOffset": 25, "strokeColor": "#d5d5d5", "fillColor": "rgba(255,255,255,0.8)", "cornerRadius": 3, "padding": 6, "rowPadding": 7, "titlePadding": 6}
}
}
